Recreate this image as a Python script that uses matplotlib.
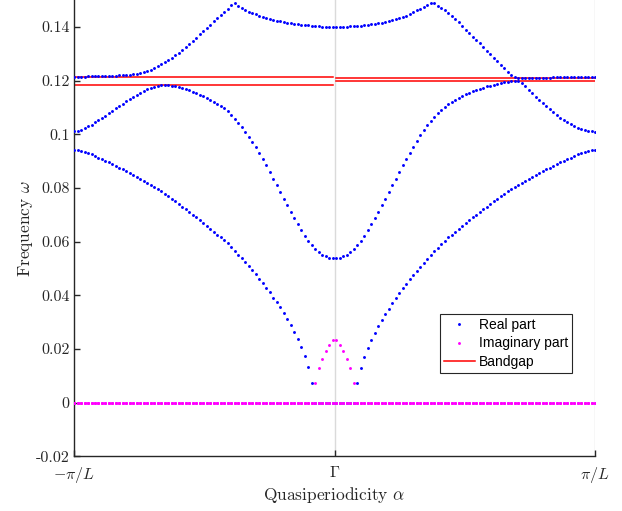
import numpy as np
import matplotlib
matplotlib.use("Agg")
import matplotlib.pyplot as plt

n_alpha = 150
L = 1.0

# band values, in units of 1e-3
band1_real = [
    94.3, 94.1, 93.8, 93.4, 93.0, 92.5, 91.9, 91.3, 90.7, 90.1,
    89.5, 88.9, 88.3, 87.6, 86.9, 86.2, 85.5, 84.8, 84.1, 83.4,
    82.7, 82.0, 81.2, 80.4, 79.6, 78.7, 77.8, 76.9, 76.0, 75.0,
    74.0, 73.0, 72.0, 71.0, 70.0, 69.0, 68.0, 67.0, 65.9, 64.8,
    63.7, 62.6, 61.6, 60.5, 59.4, 58.0, 56.6, 55.2, 53.8, 52.3,
    50.8, 49.3, 47.8, 46.2, 44.6, 42.9, 41.1, 39.2, 37.4, 35.5,
    33.5, 31.3, 29.0, 26.5, 23.7, 20.8, 17.3, 13.3, 7.5, 0.0,
    0.0, 0.0, 0.0, 0.0, 0.0, 0.0, 0.0, 0.0, 0.0, 0.0,
    0.0, 7.2, 12.9, 17.0, 20.4, 23.4, 26.1, 28.6, 30.9, 33.1,
    35.0, 37.0, 38.9, 40.8, 42.6, 44.4, 46.0, 47.6, 49.1, 50.6,
    52.1, 53.6, 55.0, 56.4, 57.8, 59.2, 60.4, 61.6, 62.6, 63.7,
    64.8, 65.9, 67.0, 68.0, 69.0, 70.0, 71.0, 72.0, 73.0, 74.0,
    75.0, 76.0, 76.9, 77.8, 78.7, 79.6, 80.4, 81.2, 82.0, 82.7,
    83.4, 84.1, 84.8, 85.5, 86.2, 86.9, 87.6, 88.3, 88.9, 89.5,
    90.1, 90.7, 91.3, 91.9, 92.5, 93.0, 93.4, 93.8, 94.1, 94.3,
]
band2_real = [
    101.1, 101.3, 101.7, 102.2, 102.9, 103.6, 104.4, 105.2, 106.0, 106.9,
    107.8, 108.7, 109.6, 110.5, 111.4, 112.3, 113.2, 114.0, 114.8, 115.5,
    116.2, 116.8, 117.3, 117.7, 118.0, 118.2, 118.3, 118.2, 118.0, 117.8,
    117.5, 117.2, 116.8, 116.4, 115.9, 115.3, 114.7, 114.1, 113.5, 112.8,
    112.0, 111.2, 110.5, 109.6, 108.5, 107.2, 105.8, 104.2, 102.6, 100.8,
    99.0, 97.1, 95.1, 92.9, 90.7, 88.4, 86.0, 83.5, 81.0, 78.5,
    76.0, 73.5, 71.1, 68.7, 66.4, 64.2, 62.2, 60.4, 58.8, 57.4,
    56.2, 55.2, 54.5, 54.0, 53.8, 53.8, 54.0, 54.5, 55.2, 56.2,
    57.4, 58.8, 60.4, 62.2, 64.2, 66.4, 68.7, 71.1, 73.5, 76.0,
    78.5, 81.0, 83.5, 86.0, 88.4, 90.7, 93.1, 95.4, 97.6, 99.6,
    101.6, 103.3, 104.9, 106.4, 107.9, 109.0, 110.2, 111.2, 112.1, 112.9,
    113.6, 114.3, 115.0, 115.5, 116.0, 116.5, 116.9, 117.3, 117.8, 118.1,
    118.4, 118.8, 119.1, 119.3, 119.6, 119.8, 120.0, 119.8, 119.0, 117.8,
    116.5, 115.3, 114.0, 112.8, 111.6, 110.4, 109.3, 108.2, 107.1, 106.2,
    105.3, 104.5, 103.7, 103.0, 102.5, 102.0, 101.6, 101.3, 101.1, 101.0,
]
band3_real = [
    121.5, 121.5, 121.5, 121.5, 121.6, 121.6, 121.6, 121.6, 121.7, 121.7,
    121.7, 121.8, 121.8, 121.9, 122.0, 122.1, 122.2, 122.3, 122.5, 122.7,
    123.0, 123.5, 124.0, 124.6, 125.3, 126.0, 126.8, 127.6, 128.5, 129.4,
    130.4, 131.4, 132.5, 133.6, 134.8, 136.0, 137.2, 138.4, 139.6, 140.8,
    142.0, 143.2, 144.4, 145.6, 146.8, 148.0, 148.9, 147.9, 147.0, 146.3,
    145.7, 145.1, 144.6, 144.1, 143.7, 143.3, 142.9, 142.6, 142.3, 142.0,
    141.8, 141.6, 141.4, 141.2, 141.0, 140.8, 140.7, 140.6, 140.4, 140.3,
    140.2, 140.1, 140.1, 140.0, 140.0, 140.0, 140.0, 140.1, 140.1, 140.2,
    140.3, 140.4, 140.5, 140.6, 140.8, 140.9, 141.1, 141.3, 141.5, 141.8,
    142.1, 142.4, 142.8, 143.2, 143.7, 144.2, 144.8, 145.4, 146.1, 146.8,
    147.5, 148.1, 148.7, 149.0, 147.9, 147.1, 146.1, 145.0, 144.0, 142.9,
    141.7, 140.3, 139.0, 137.7, 136.4, 135.1, 133.8, 132.4, 131.1, 129.8,
    128.5, 127.2, 125.9, 124.6, 123.3, 122.2, 121.4, 121.0, 120.9, 120.9,
    120.9, 121.0, 121.0, 121.0, 121.1, 121.1, 121.1, 121.2, 121.2, 121.2,
    121.3, 121.3, 121.3, 121.4, 121.4, 121.4, 121.5, 121.5, 121.5, 121.5,
]
# lowest band turns imaginary around Gamma (indices 69..80)
imag_start = 69
band1_imag_core = [7.3, 12.8, 16.4, 19.1, 21.6, 23.5, 23.5, 21.6, 19.1, 16.4, 12.8, 7.3]

gap_left = [118.3, 121.5]
gap_right = [120.0, 120.8]

xtick_labels = [r"$-\pi/L$", r"$\Gamma$", r"$\pi/L$"]
ytick_values = [-0.02, 0, 0.02, 0.04, 0.06, 0.08, 0.1, 0.12, 0.14]
ytick_labels = ["-0.02", "0", "0.02", "0.04", "0.06", "0.08", "0.1", "0.12", "0.14"]


def main():
    plt.rcParams["mathtext.fontset"] = "cm"
    plt.rcParams["axes.unicode_minus"] = False

    alpha = np.linspace(-np.pi / L, np.pi / L, n_alpha)
    real_part = np.array([band1_real, band2_real, band3_real]) * 1e-3
    imag_part = np.zeros_like(real_part)
    imag_part[0, imag_start:imag_start + len(band1_imag_core)] = np.array(band1_imag_core) * 1e-3
    half = n_alpha // 2

    axis_col = (0.15, 0.15, 0.15)

    fig = plt.figure(figsize=(6.22, 5.11), dpi=100)
    ax = fig.add_axes([0.119, 0.1067, 0.8376, 0.8933])

    # light guide lines at Gamma and at the zone edge
    for xv in (0.0, np.pi / L):
        ax.axvline(xv, color="#dadada", lw=1.0, zorder=0)

    # bandgap edges, one pair per half of the zone
    for (lo, hi), gap in zip([(0, half - 1), (half, n_alpha - 1)], [gap_left, gap_right]):
        for g in gap:
            ax.plot([alpha[lo], alpha[hi]], [g * 1e-3, g * 1e-3], color="red", lw=1.1, zorder=1)

    for k in range(real_part.shape[0]):
        ax.plot(alpha, real_part[k], ls="none", marker="o", ms=2.1, mew=0,
                color="blue", zorder=3)
    for k in range(imag_part.shape[0]):
        ax.plot(alpha, imag_part[k], ls="none", marker="o", ms=2.1, mew=0,
                color="magenta", zorder=4)

    ax.set_xlim(-np.pi / L, np.pi / L)
    ax.set_ylim(-0.02, 0.15)
    ax.set_xticks([-np.pi / L, 0, np.pi / L])
    ax.set_xticklabels(xtick_labels)
    ax.set_yticks(ytick_values)
    ax.set_yticklabels(ytick_labels)
    for lab in ax.get_yticklabels():
        lab.set_fontfamily("cmr10")

    ax.tick_params(direction="in", length=4, width=1.0, color=axis_col,
                   labelsize=11.5, labelcolor=axis_col, pad=3)
    ax.tick_params(axis="x", pad=6)
    for side in ("top", "right"):
        ax.spines[side].set_visible(False)
    for side in ("left", "bottom"):
        ax.spines[side].set_color(axis_col)
        ax.spines[side].set_linewidth(1.0)

    ax.set_xlabel(r"Quasiperiodicity $\alpha$", fontfamily="cmr10", fontsize=12.5,
                  color=axis_col, labelpad=0)
    ax.set_ylabel(r"Frequency $\omega$", fontfamily="cmr10", fontsize=12.5,
                  color=axis_col, labelpad=1)

    # legend proxies
    h_real, = ax.plot([], [], ls="none", marker="o", ms=2.1, mew=0, color="blue")
    h_imag, = ax.plot([], [], ls="none", marker="o", ms=2.1, mew=0, color="magenta")
    h_gap, = ax.plot([], [], color="red", lw=1.1)
    leg = ax.legend([h_real, h_imag, h_gap], ["Real part", "Imaginary part", "Bandgap"],
                    loc="upper left", bbox_to_anchor=(0.7025, 0.312),
                    prop={"family": "Liberation Sans", "size": 10},
                    handlelength=2.2, handletextpad=0.3, labelspacing=0.3,
                    borderpad=0.3, borderaxespad=0, fancybox=False, framealpha=1)
    leg.get_frame().set_edgecolor(axis_col)
    leg.get_frame().set_linewidth(0.8)

    fig.savefig("out.png", dpi=100)
    plt.close(fig)


if __name__ == "__main__":
    main()
